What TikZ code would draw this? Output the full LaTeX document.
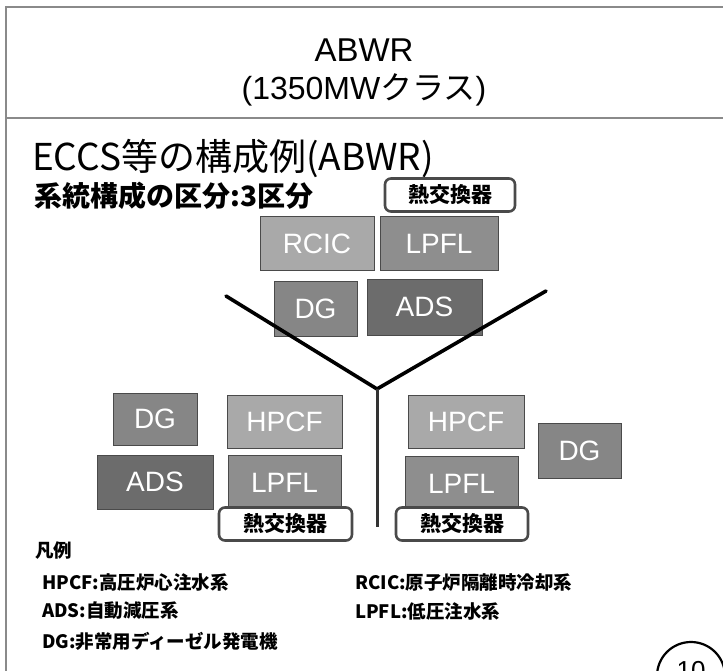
\documentclass[tikz,border=0pt]{standalone}
\usepackage{fontspec}
\setmainfont{Liberation Sans}
\newfontfamily\jp{Noto Sans CJK JP}
\definecolor{frameC}{HTML}{8A8A8A}
\definecolor{lightG}{HTML}{A9A9A9}
\definecolor{midG}{HTML}{8E8E8E}
\definecolor{dgG}{HTML}{868686}
\definecolor{darkG}{HTML}{6C6C6C}
\definecolor{edgeG}{HTML}{4A4A4A}
\tikzset{
  sysbox/.style={draw=edgeG, line width=1pt, inner sep=0pt, text=white,
    font=\fontsize{28}{28}\selectfont},
  lightbox/.style={sysbox, fill=lightG},
  midbox/.style={sysbox, fill=midG},
  dgbox/.style={sysbox, fill=dgG},
  darkbox/.style={sysbox, fill=darkG},
  hxbox/.style={draw=edgeG, line width=2.6pt, fill=white, rounded corners=6pt,
    minimum width=130pt, minimum height=33pt, inner sep=0pt,
    font=\jp\bfseries\fontsize{21}{21}\selectfont},
  yline/.style={line width=3.6pt, black},
  vline/.style={line width=3pt, black!80},
  legend/.style={anchor=west, inner sep=0pt, font=\jp\bfseries\fontsize{18.5}{19}\selectfont},
  frameline/.style={frameC, line width=1.6pt}
}
\begin{document}
\begin{tikzpicture}[x=1pt,y=-1pt]
\useasboundingbox (0,0) rectangle (723,671);
% frame
\draw[frameline] (6,671) -- (6,7) -- (723,7);
\draw[frameline] (6,118) -- (723,118);
% titles
\node (t1) at (364,50) {\fontsize{33}{33}\selectfont ABWR};
\node (t2) at (364,90) {\fontsize{32}{32}\selectfont (1350MW{\jp クラス})};
\node[anchor=west, inner sep=0pt] (head) at (32,158) {\jp\fontsize{37}{37}\selectfont ECCS等の構成例(ABWR)};
\node[anchor=west, inner sep=0pt] (sub) at (34,196) {\jp\bfseries\fontsize{28}{28}\selectfont 系統構成の区分:3区分};
% top group
\node[lightbox, minimum width=114pt, minimum height=53pt] (rcic) at (317,243.5) {RCIC};
\node[midbox, minimum width=118pt, minimum height=53pt] (lpflT) at (439,243.5) {LPFL};
\node[hxbox] (hxT) at (450,195) {熱交換器};
\node[dgbox, minimum width=83pt, minimum height=55pt] (dgT) at (315.5,308.5) {DG};
\node[darkbox, minimum width=115pt, minimum height=56pt] (adsT) at (424.5,307) {ADS};
% Y lines
\coordinate (J) at (377,389);
\coordinate (LE) at (226,296);
\coordinate (RE) at (546,291);
\coordinate (BE) at (377,527);
\draw[yline, line cap=round] (LE) -- (J) -- (RE);
\draw[vline] (J) -- (BE);
% left group
\node[dgbox, minimum width=84pt, minimum height=52pt] (dgL) at (155,419) {DG};
\node[lightbox, minimum width=115pt, minimum height=53pt] (hpcfL) at (284.5,421.5) {HPCF};
\node[darkbox, minimum width=116pt, minimum height=54pt] (adsL) at (155,482) {ADS};
\node[midbox, minimum width=113pt, minimum height=55pt] (lpflL) at (284.5,482.5) {LPFL};
\node[hxbox, minimum width=133pt] (hxL) at (285.5,524) {熱交換器};
% right group
\node[lightbox, minimum width=116pt, minimum height=53pt] (hpcfR) at (466,421.5) {HPCF};
\node[midbox, minimum width=113pt, minimum height=56pt] (lpflR) at (461.5,484) {LPFL};
\node[hxbox, minimum width=132pt] (hxR) at (462,524) {熱交換器};
\node[dgbox, minimum width=83pt, minimum height=55pt] (dgR) at (579.5,450.5) {DG};
% legend
\node[legend] (lg0) at (35,551) {凡例};
\node[legend] (lg1) at (42,582) {HPCF:高圧炉心注水系};
\node[legend] (lg2) at (42,611) {ADS:自動減圧系};
\node[legend] (lg3) at (42,641) {DG:非常用ディーゼル発電機};
\node[legend] (lg4) at (355,582) {RCIC:原子炉隔離時冷却系};
\node[legend] (lg5) at (355,611) {LPFL:低圧注水系};
% page number
\node[draw, line width=2.2pt, circle, minimum size=68pt, inner sep=0pt] (pg) at (691,676) {};
\node[inner sep=0pt, anchor=north] (pgn) at (691,661) {\fontsize{26}{26}\selectfont 10};
\end{tikzpicture}
\end{document}
